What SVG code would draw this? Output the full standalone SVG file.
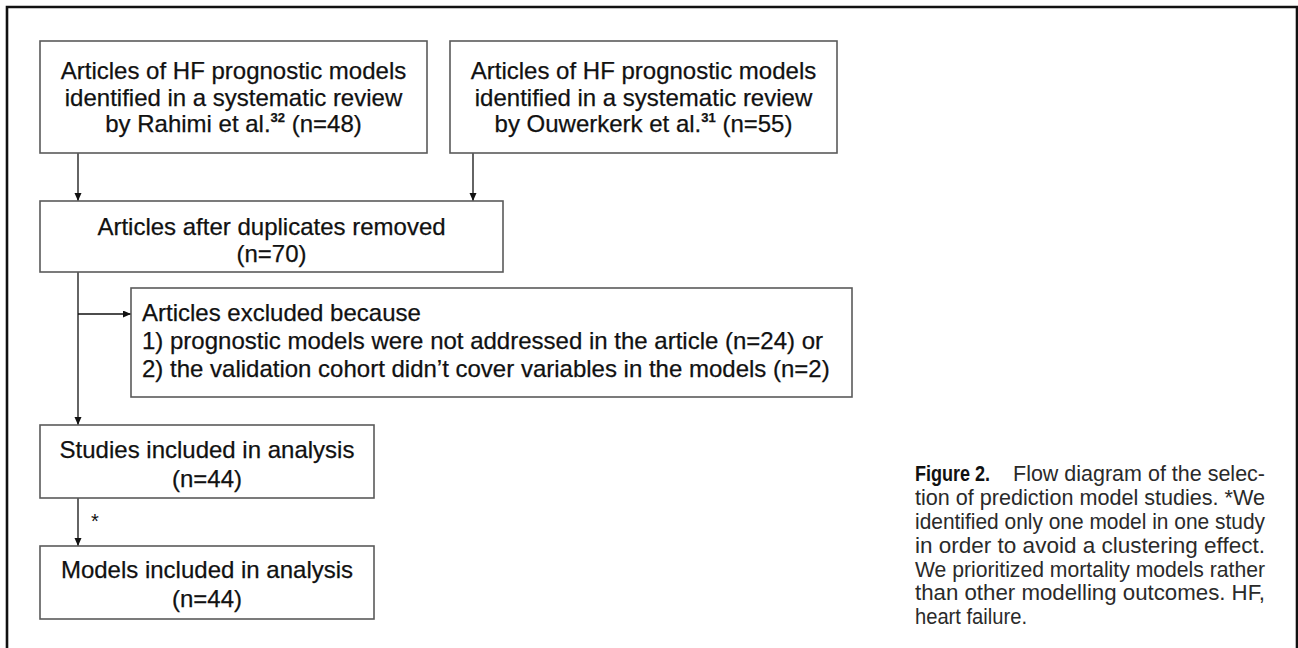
<svg xmlns="http://www.w3.org/2000/svg" width="1298" height="648" viewBox="0 0 1298 648">
<style>
.box{fill:#fff;stroke:#5a5a5a;stroke-width:1.6}
.t{font-family:"Liberation Sans",Arial,sans-serif;font-size:24px;fill:#111;stroke:#111;stroke-width:0.25}
.c{text-anchor:middle}
.sup{font-size:13px;font-weight:bold}
.edge{fill:none;stroke:#111;stroke-width:1.3}
.cap{font-family:"Liberation Sans",Arial,sans-serif;font-size:22px;fill:#2a2a2a}
.fig{font-family:"Liberation Sans",Arial,sans-serif;font-weight:bold;font-size:22px;fill:#111}
</style>
<defs>
<marker id="ah" markerUnits="userSpaceOnUse" markerWidth="8" markerHeight="8" refX="8" refY="3.5" orient="auto">
<path d="M0,0 L8,3.5 L0,7 z" fill="#111"/>
</marker>
</defs>
<rect width="1298" height="648" fill="#fff"/>
<path d="M7,648 V7 H1297 V648" fill="none" stroke="#111" stroke-width="2.6"/>

<g id="connectors">
<path class="edge" d="M78,153 V201" marker-end="url(#ah)"/>
<path class="edge" d="M473,153 V201" marker-end="url(#ah)"/>
<path class="edge" d="M78,272 V425" marker-end="url(#ah)"/>
<path class="edge" d="M78,314 H131" marker-end="url(#ah)"/>
<path class="edge" d="M78,498 V546" marker-end="url(#ah)"/>
<text class="t" x="91" y="528" style="font-size:20px;stroke-width:0">*</text>
</g>

<g id="node-rahimi">
<rect class="box" x="40" y="41" width="387" height="112"/>
<text class="t c" x="233.5" y="79">Articles of HF prognostic models</text>
<text class="t c" x="233.5" y="105.5">identified in a systematic review</text>
<text class="t c" x="233.5" y="132">by Rahimi et al.<tspan class="sup" dy="-10">32</tspan><tspan dy="10"> (n=48)</tspan></text>
</g>

<g id="node-ouwerkerk">
<rect class="box" x="450" y="41" width="387" height="112"/>
<text class="t c" x="643.5" y="79">Articles of HF prognostic models</text>
<text class="t c" x="643.5" y="105.5">identified in a systematic review</text>
<text class="t c" x="643.5" y="132">by Ouwerkerk et al.<tspan class="sup" dy="-10">31</tspan><tspan dy="10"> (n=55)</tspan></text>
</g>

<g id="node-dedup">
<rect class="box" x="40" y="201" width="463" height="71"/>
<text class="t c" x="271.5" y="235">Articles after duplicates removed</text>
<text class="t c" x="271.5" y="262">(n=70)</text>
</g>

<g id="node-excluded">
<rect class="box" x="131" y="288" width="721" height="109"/>
<text class="t" x="142" y="321">Articles excluded because</text>
<text class="t" x="142" y="349">1) prognostic models were not addressed in the article (n=24) or</text>
<text class="t" x="142" y="377">2) the validation cohort didn’t cover variables in the models (n=2)</text>
</g>

<g id="node-studies">
<rect class="box" x="40" y="425" width="334" height="73"/>
<text class="t c" x="207" y="458">Studies included in analysis</text>
<text class="t c" x="207" y="487">(n=44)</text>
</g>

<g id="node-models">
<rect class="box" x="40" y="546" width="334" height="73"/>
<text class="t c" x="207" y="578">Models included in analysis</text>
<text class="t c" x="207" y="607">(n=44)</text>
</g>

<g id="caption">
<text class="fig" x="915" y="481" textLength="75" lengthAdjust="spacingAndGlyphs">Figure 2.</text>
<text class="cap" x="1013" y="481" textLength="252" lengthAdjust="spacingAndGlyphs">Flow diagram of the selec-</text>
<text class="cap" x="915" y="505" textLength="350" lengthAdjust="spacingAndGlyphs">tion of prediction model studies. *We</text>
<text class="cap" x="915" y="529" textLength="350" lengthAdjust="spacingAndGlyphs">identified only one model in one study</text>
<text class="cap" x="915" y="553" textLength="350" lengthAdjust="spacingAndGlyphs">in order to avoid a clustering effect.</text>
<text class="cap" x="915" y="577" textLength="350" lengthAdjust="spacingAndGlyphs">We prioritized mortality models rather</text>
<text class="cap" x="915" y="600" textLength="350" lengthAdjust="spacingAndGlyphs">than other modelling outcomes. HF,</text>
<text class="cap" x="915" y="624" textLength="112" lengthAdjust="spacingAndGlyphs">heart failure.</text>
</g>
</svg>
